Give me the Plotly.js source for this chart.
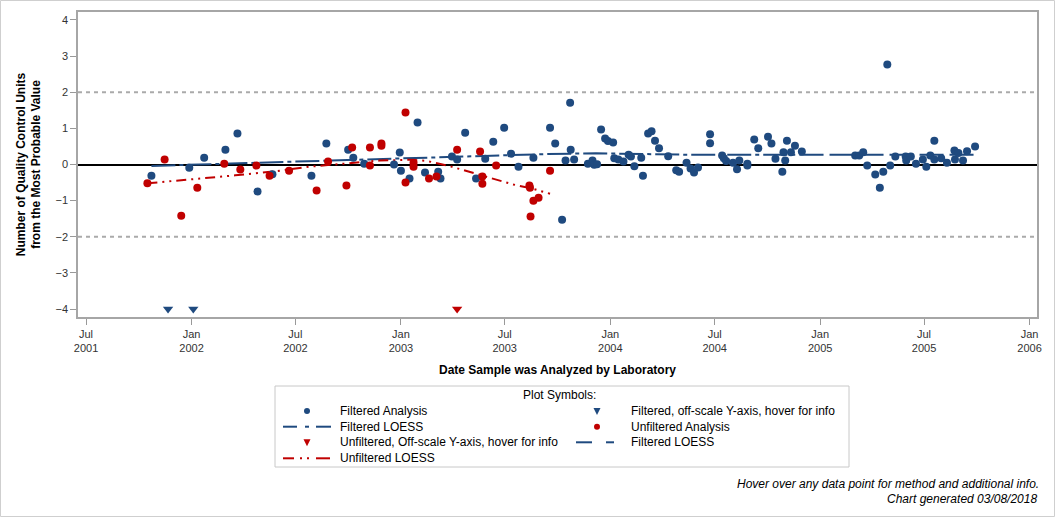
<!DOCTYPE html>
<html>
<head>
<meta charset="utf-8">
<script src="https://cdn.plot.ly/plotly-3.0.1.min.js"></script>
<style>html,body{margin:0;padding:0;background:#fff;}#chart{width:1056px;height:518px;}</style>
</head>
<body>
<div id="chart"></div>
<script>
// ---- Data ----
var filteredDates = [
"2001-10-23","2001-12-28","2002-01-23","2002-03-01","2002-03-22","2002-04-26","2002-05-22","2002-07-29","2002-08-24","2002-10-01",
"2002-10-10","2002-10-29","2002-12-20","2002-12-30","2003-01-01","2003-01-16","2003-01-30","2003-02-12","2003-03-07","2003-03-11",
"2003-03-31","2003-04-09","2003-04-23","2003-05-12","2003-05-28","2003-06-11","2003-06-30","2003-07-12","2003-07-25","2003-08-20",
"2003-09-18","2003-09-27","2003-10-09","2003-10-15","2003-10-23","2003-10-24","2003-10-30","2003-11-23","2003-12-01","2003-12-04",
"2003-12-09","2003-12-16","2003-12-23","2003-12-28","2004-01-06","2004-01-08","2004-01-15","2004-01-24","2004-02-02","2004-02-06",
"2004-02-12","2004-02-24","2004-02-27","2004-03-07","2004-03-13","2004-03-19","2004-03-26","2004-04-11","2004-04-25","2004-04-30",
"2004-05-13","2004-05-20","2004-05-26","2004-06-02","2004-06-23","2004-06-23","2004-07-14","2004-07-17","2004-07-21","2004-08-02",
"2004-08-09","2004-08-13","2004-08-27","2004-08-27","2004-09-08","2004-09-15","2004-10-02","2004-10-08","2004-10-15","2004-10-27",
"2004-10-29","2004-11-01","2004-11-04","2004-11-11","2004-11-18","2004-11-30","2005-03-03","2005-03-10","2005-03-17","2005-03-24",
"2005-04-07","2005-04-15","2005-04-21","2005-04-28","2005-05-03","2005-05-12","2005-05-30","2005-05-31","2005-06-08","2005-06-17",
"2005-06-29","2005-07-05","2005-07-12","2005-07-19","2005-07-19","2005-07-31","2005-08-10","2005-08-23","2005-08-24","2005-08-30",
"2005-09-07","2005-09-14","2005-09-28"];
var filteredValues = [
-0.31,-0.09,0.19,0.41,0.86,-0.75,-0.27,-0.31,0.58,0.41,
0.19,0.02,0.00,0.33,-0.17,-0.39,1.16,-0.22,-0.20,-0.39,
0.22,0.14,0.88,-0.39,0.16,0.63,1.02,0.30,-0.06,0.19,
1.02,0.58,-1.53,0.11,1.71,0.41,0.14,0.02,0.11,-0.01,
0.01,0.97,0.72,0.65,0.61,0.17,0.14,0.08,0.27,0.22,
-0.05,0.19,-0.31,0.86,0.92,0.66,0.45,0.23,-0.16,-0.20,
0.05,-0.11,-0.22,-0.08,0.84,0.59,0.25,0.17,0.10,0.05,
-0.13,0.11,0.02,-0.03,0.69,0.45,0.77,0.58,0.16,-0.20,
0.34,0.11,0.66,0.34,0.52,0.36,0.25,0.25,0.34,-0.03,
-0.28,-0.64,-0.20,2.77,-0.03,0.22,0.22,0.11,0.22,0.02,
0.14,-0.06,0.25,0.66,0.14,0.17,0.05,0.39,0.14,0.32,
0.11,0.37,0.50];

var unfilteredDates = [
"2001-10-16","2001-11-15","2001-12-14","2002-01-11","2002-02-27","2002-03-27","2002-04-24","2002-05-17","2002-06-20","2002-08-07",
"2002-08-27","2002-09-28","2002-10-08","2002-11-08","2002-11-08","2002-11-28","2002-11-28","2003-01-09","2003-01-09","2003-01-23",
"2003-01-23","2003-02-19","2003-03-04","2003-04-09","2003-05-19","2003-05-23","2003-05-23","2003-06-16","2003-08-13","2003-08-14",
"2003-08-15","2003-08-20","2003-08-29","2003-09-18"];
var unfilteredValues = [
-0.52,0.14,-1.42,-0.64,0.02,-0.14,-0.03,-0.31,-0.17,-0.72,
0.08,-0.58,0.47,0.47,-0.03,0.58,0.52,1.44,-0.50,0.05,
-0.06,-0.39,-0.33,0.41,0.36,-0.33,-0.53,-0.03,-0.58,-0.64,
-1.44,-1.00,-0.92,-0.17];

var offscaleFilteredDates = ["2001-11-21","2002-01-04"];
var offscaleFilteredValues = [-4,-4];
var offscaleUnfilteredDates = ["2003-04-09"];
var offscaleUnfilteredValues = [-4];

var loessFilteredDates = ["2001-10-23","2002-01-16","2002-03-21","2002-04-30","2002-06-27","2002-08-09","2002-10-15","2002-12-09",
"2003-02-03","2003-03-31","2003-06-02","2003-07-21","2003-09-14","2003-12-07","2004-02-22","2004-05-19","2004-08-14","2004-11-26"];
var loessFilteredValues = [-0.04,0.00,0.03,0.05,0.08,0.10,0.13,0.16,0.19,0.21,0.24,0.26,0.29,0.31,0.29,0.27,0.27,0.27];

var loessFiltered2Dates = ["2004-11-26","2005-03-15","2005-06-15","2005-09-28"];
var loessFiltered2Values = [0.27,0.27,0.27,0.27];

var loessUnfilteredDates = ["2001-10-16","2002-01-07","2002-03-18","2002-05-31","2002-07-26","2002-09-22","2002-11-25","2003-01-17",
"2003-02-15","2003-03-28","2003-05-01","2003-06-11","2003-07-15","2003-08-19","2003-09-18"];
var loessUnfilteredValues = [-0.52,-0.41,-0.30,-0.18,-0.06,0.02,0.11,0.13,0.10,-0.05,-0.20,-0.40,-0.55,-0.67,-0.81];

var xTickVals = ["2001-07-01","2002-01-01","2002-07-01","2003-01-01","2003-07-01","2004-01-01","2004-07-01","2005-01-01","2005-07-01","2006-01-01"];
var xTickText = ["Jul<br>2001","Jan<br>2002","Jul<br>2002","Jan<br>2003","Jul<br>2003","Jan<br>2004","Jul<br>2004","Jan<br>2005","Jul<br>2005","Jan<br>2006"];
var yTickVals = [-4,-3,-2,-1,0,1,2,3,4];
var refLines = [-2,2];

var legendLabels = ["Filtered Analysis","Filtered, off-scale Y-axis, hover for info","Filtered LOESS","Unfiltered Analysis",
"Unfiltered, Off-scale Y-axis, hover for info","Filtered LOESS","Unfiltered LOESS"];

// ---- Style ----
var BLUE = "#1f4a7f", RED = "#c00000";
var FONT = "Arial, 'Liberation Sans', sans-serif";

var traces = [
  {x: loessFilteredDates, y: loessFilteredValues, type: "scatter", mode: "lines",
   line: {color: BLUE, width: 2, dash: "24px,4px,4px,4px"}, hoverinfo: "skip"},
  {x: loessFiltered2Dates, y: loessFiltered2Values, type: "scatter", mode: "lines",
   line: {color: BLUE, width: 2, dash: "24px,6px"}, hoverinfo: "skip"},
  {x: loessUnfilteredDates, y: loessUnfilteredValues, type: "scatter", mode: "lines",
   line: {color: RED, width: 2, dash: "10px,5px,2px,5px,2px,5px"}, hoverinfo: "skip"},
  {x: filteredDates, y: filteredValues, type: "scatter", mode: "markers",
   marker: {color: BLUE, size: 8}, name: "Filtered Analysis"},
  {x: unfilteredDates, y: unfilteredValues, type: "scatter", mode: "markers",
   marker: {color: RED, size: 8}, name: "Unfiltered Analysis"},
  {x: offscaleFilteredDates, y: offscaleFilteredValues, type: "scatter", mode: "markers",
   marker: {color: BLUE, size: 9, symbol: "triangle-down"}, name: "Filtered off-scale"},
  {x: offscaleUnfilteredDates, y: offscaleUnfilteredValues, type: "scatter", mode: "markers",
   marker: {color: RED, size: 9, symbol: "triangle-down"}, name: "Unfiltered off-scale"}
];

var L = 78, R = 19, T = 12, B = 201, W = 1056, H = 518;
var PW = W - L - R, PH = H - T - B;
function px(x){ return (x - L) / PW; }
function py(y){ return (H - B - y) / PH; }

var shapes = [];
refLines.forEach(function(v){
  shapes.push({type: "line", xref: "paper", x0: 0, x1: 1, yref: "y", y0: v, y1: v,
    line: {color: "#aaaaaa", width: 2, dash: "4px,4px"}, layer: "below"});
});
// outer border
shapes.push({type: "rect", xref: "paper", yref: "paper", x0: px(0.5), x1: px(1054.5), y0: py(516.5), y1: py(0.5),
  line: {color: "#cfcfcf", width: 1}});
// legend box
shapes.push({type: "rect", xref: "paper", yref: "paper", x0: px(275), x1: px(849), y0: py(467), y1: py(386),
  line: {color: "#c8c8c8", width: 1}});

var rows = [411, 426.7, 442.3, 458.3];
var col1Sym = 307, col1Text = 338, col2Sym = 597, col2Text = 629;
function dot(cx, cy, color){
  shapes.push({type: "circle", xref: "paper", yref: "paper", xsizemode: "pixel", ysizemode: "pixel",
    xanchor: px(cx), yanchor: py(cy), x0: -3, x1: 3, y0: -3, y1: 3, fillcolor: color, line: {width: 0}});
}
function tri(cx, cy, color){
  shapes.push({type: "path", xref: "paper", yref: "paper", xsizemode: "pixel", ysizemode: "pixel",
    xanchor: px(cx), yanchor: py(cy), path: "M-3.5,3 L3.5,3 L0,-4 Z", fillcolor: color, line: {width: 0}});
}
function seg(x0, x1, cy, color){
  shapes.push({type: "line", xref: "paper", yref: "paper", x0: px(x0), x1: px(x1), y0: py(cy), y1: py(cy),
    line: {color: color, width: 2}});
}
dot(col1Sym, rows[0], BLUE);
tri(col2Sym, rows[0], BLUE);
seg(283, 297, rows[1], BLUE); seg(305, 309, rows[1], BLUE); seg(316, 331, rows[1], BLUE);
dot(col2Sym, rows[1], RED);
tri(col1Sym, rows[2], RED);
seg(576, 592, rows[2], BLUE); seg(606, 614, rows[2], BLUE);
seg(283, 294, rows[3], RED); seg(300, 302, rows[3], RED); seg(307, 309, rows[3], RED); seg(316, 330, rows[3], RED);

var annFont = {family: FONT, size: 12, color: "#000"};
var annotations = [
  {xref: "paper", yref: "paper", x: px(559), y: py(395), text: "Plot Symbols:", showarrow: false,
   xanchor: "center", yanchor: "middle", font: annFont}
];
var legendPos = [[col1Text, rows[0]], [col2Text, rows[0]], [col1Text, rows[1]], [col2Text, rows[1]],
                 [col1Text, rows[2]], [col2Text, rows[2]], [col1Text, rows[3]]];
legendLabels.forEach(function(t, i){
  annotations.push({xref: "paper", yref: "paper", x: px(legendPos[i][0]), y: py(legendPos[i][1]), text: t,
    showarrow: false, xanchor: "left", yanchor: "middle", font: annFont});
});
annotations.push({xref: "paper", yref: "paper", x: px(1041), y: py(484), text: "<i>Hover over any data point for method and additional info.</i>",
  showarrow: false, xanchor: "right", yanchor: "middle", font: annFont});
annotations.push({xref: "paper", yref: "paper", x: px(1039), y: py(498.5), text: "<i>Chart generated 03/08/2018</i>",
  showarrow: false, xanchor: "right", yanchor: "middle", font: annFont});

var layout = {
  width: W, height: H,
  margin: {l: L, r: R, t: T, b: B},
  paper_bgcolor: "#fff", plot_bgcolor: "#fff",
  showlegend: false,
  font: {family: FONT, size: 11, color: "#333"},
  xaxis: {
    type: "date", range: ["2001-06-17", "2006-01-14"],
    tickmode: "array", tickvals: xTickVals, ticktext: xTickText,
    ticks: "outside", ticklen: 6, tickcolor: "#999", tickwidth: 1,
    showgrid: false, zeroline: false,
    showline: true, mirror: true, linecolor: "#a6a6a6", linewidth: 1.5,
    tickfont: {family: FONT, size: 11, color: "#333"},
    title: {text: "<b>Date Sample was Analyzed by Laboratory</b>", font: {family: FONT, size: 12, color: "#000"}, standoff: 12}
  },
  yaxis: {
    range: [-4.22, 4.22],
    tickmode: "array", tickvals: yTickVals,
    ticks: "outside", ticklen: 6, tickcolor: "#999", tickwidth: 1,
    showgrid: false,
    zeroline: true, zerolinecolor: "#000", zerolinewidth: 2,
    showline: true, mirror: true, linecolor: "#a6a6a6", linewidth: 1.5,
    tickfont: {family: FONT, size: 11, color: "#333"},
    title: {text: "<b>Number of Quality Control Units<br>from the Most Probable Value</b>", font: {family: FONT, size: 12, color: "#000"}, standoff: 12}
  },
  shapes: shapes,
  annotations: annotations,
  hovermode: "closest"
};

Plotly.newPlot("chart", traces, layout, {displayModeBar: false, responsive: false});
</script>
</body>
</html>
